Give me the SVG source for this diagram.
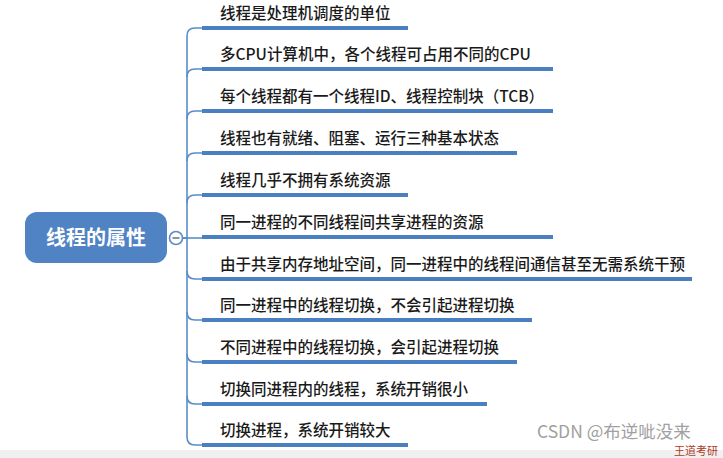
<svg xmlns="http://www.w3.org/2000/svg" width="723" height="458" viewBox="0 0 723 458">
<style>
.t{font-family:"Noto Sans CJK SC","Noto Sans",sans-serif;font-size:15.5px;font-weight:500;fill:#1a1a1a}
.ul{stroke:#4a7fc1;stroke-width:4;fill:none}
.br{stroke:#5a8cc9;stroke-width:1.6;fill:none}
.root{fill:#4f83c3}
.rt{font-family:"Noto Sans CJK SC","Noto Sans",sans-serif;font-size:20px;font-weight:bold;fill:#ffffff}
</style>
<rect width="723" height="458" fill="#ffffff"/>
<rect x="0" y="450" width="723" height="8" fill="#f0f0f0"/>
<g id="connectors">
<path class="br" d="M182,238 H187 V36 Q187,28 195,28 H203"/>
<path class="br" d="M187,77 Q187,69 195,69 H203"/>
<path class="br" d="M187,119 Q187,111 195,111 H203"/>
<path class="br" d="M187,161 Q187,153 195,153 H203"/>
<path class="br" d="M187,203 Q187,195 195,195 H203"/>
<path class="br" d="M182,238 H203"/>
<path class="br" d="M187,271 Q187,279 195,279 H203"/>
<path class="br" d="M187,312 Q187,320 195,320 H203"/>
<path class="br" d="M187,354 Q187,362 195,362 H203"/>
<path class="br" d="M187,396 Q187,404 195,404 H203"/>
<path class="br" d="M182,238 H187 V437 Q187,445 195,445 H203"/>
</g>
<g id="root">
<rect class="root" x="25" y="212" width="142" height="51" rx="12"/>
<text class="rt" x="96" y="244.5" text-anchor="middle">线程的属性</text>
</g>
<g id="collapse">
<circle cx="176" cy="238" r="6.5" fill="#ffffff" stroke="#5a8cc9" stroke-width="1.6"/>
<line x1="172.5" y1="238" x2="179.5" y2="238" stroke="#6a7a90" stroke-width="1.6"/>
</g>
<g id="n1"><line class="ul" x1="202" y1="28" x2="408" y2="28"/><text class="t" x="220" y="19">线程是处理机调度的单位</text></g>
<g id="n2"><line class="ul" x1="202" y1="69" x2="553" y2="69"/><text class="t" x="220" y="60">多CPU计算机中，各个线程可占用不同的CPU</text></g>
<g id="n3"><line class="ul" x1="202" y1="111" x2="553" y2="111"/><text class="t" x="220" y="102">每个线程都有一个线程ID、线程控制块（TCB）</text></g>
<g id="n4"><line class="ul" x1="202" y1="153" x2="517" y2="153"/><text class="t" x="220" y="144">线程也有就绪、阻塞、运行三种基本状态</text></g>
<g id="n5"><line class="ul" x1="202" y1="195" x2="408" y2="195"/><text class="t" x="220" y="186">线程几乎不拥有系统资源</text></g>
<g id="n6"><line class="ul" x1="202" y1="237" x2="553" y2="237"/><text class="t" x="220" y="228">同一进程的不同线程间共享进程的资源</text></g>
<g id="n7"><line class="ul" x1="202" y1="279" x2="692" y2="279"/><text class="t" x="220" y="270">由于共享内存地址空间，同一进程中的线程间通信甚至无需系统干预</text></g>
<g id="n8"><line class="ul" x1="202" y1="320" x2="532" y2="320"/><text class="t" x="220" y="311">同一进程中的线程切换，不会引起进程切换</text></g>
<g id="n9"><line class="ul" x1="202" y1="362" x2="517" y2="362"/><text class="t" x="220" y="353">不同进程中的线程切换，会引起进程切换</text></g>
<g id="n10"><line class="ul" x1="202" y1="404" x2="487" y2="404"/><text class="t" x="220" y="395">切换同进程内的线程，系统开销很小</text></g>
<g id="n11"><line class="ul" x1="202" y1="445" x2="408" y2="445"/><text class="t" x="220" y="436">切换进程，系统开销较大</text></g>
<text x="537" y="438" font-family="Noto Sans CJK SC, sans-serif" font-size="17.5" fill="#a0a0a0">CSDN @布逆呲没来</text>
<text x="674" y="455" font-family="Noto Sans CJK SC, sans-serif" font-size="11" fill="#b23a1e">王道考研</text>
</svg>
